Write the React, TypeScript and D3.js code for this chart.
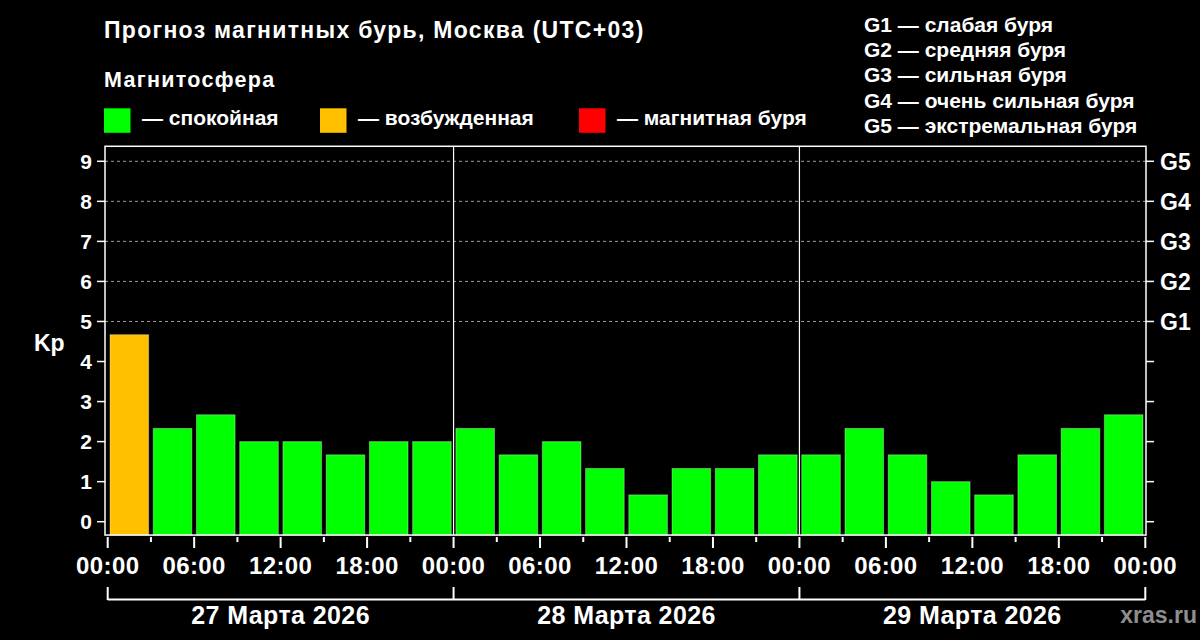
import * as React from "react"
import * as d3 from "d3"

// Kp forecast, 3-hour slots starting 27.03 00:00 (Moscow time)
const kpValues = [
  4.67, 2.33, 2.67, 2, 2, 1.67, 2, 2,
  2.33, 1.67, 2, 1.33, 0.67, 1.33, 1.33, 1.67,
  1.67, 2.33, 1.67, 1, 0.67, 1.67, 2.33, 2.67,
]
const dayLabels = ["27 Марта 2026", "28 Марта 2026", "29 Марта 2026"]
const hourLabels = ["00:00", "06:00", "12:00", "18:00"]
const kpTicks = [0, 1, 2, 3, 4, 5, 6, 7, 8, 9]
const stormLevels = ["G1", "G2", "G3", "G4", "G5"]
const stormKp = [5, 6, 7, 8, 9]
const stormLegend = [
  "G1 — слабая буря",
  "G2 — средняя буря",
  "G3 — сильная буря",
  "G4 — очень сильная буря",
  "G5 — экстремальная буря",
]
const statusLabels = ["— спокойная", "— возбужденная", "— магнитная буря"]
const statusColors = ["#00ff00", "#ffc000", "#ff0000"]
const kpThresholds = [4, 5]

const FONT = "'Liberation Sans', Arial, sans-serif"

function render(svgRef: React.RefObject<SVGSVGElement | null>) {
  const width = 1200
  const height = 640

  const svg = d3
    .select(svgRef.current)
    .attr("width", width)
    .attr("height", height)
    .style("background", "#000")
    .style("font-family", FONT)
    .style("font-weight", "bold")

  svg.selectAll("*").remove()

  const hours = kpValues.length * 3
  const xScale = d3.scaleLinear().domain([0, hours]).range([107.7, 1145.3])
  const yScale = d3.scaleLinear().domain([0, 9]).range([521.7, 161.3])
  const color = d3
    .scaleThreshold<number, string>()
    .domain(kpThresholds)
    .range(statusColors)

  const frame = {
    left: 105,
    right: 1146,
    top: yScale(9.375),
    bottom: yScale(-1 / 3),
  }

  // title + legends
  svg
    .append("text")
    .attr("x", 104)
    .attr("y", 38)
    .attr("fill", "#fff")
    .attr("font-size", 23)
    .attr("letter-spacing", 1.3)
    .text("Прогноз магнитных бурь, Москва (UTC+03)")

  svg
    .append("text")
    .attr("x", 104)
    .attr("y", 86.7)
    .attr("fill", "#fff")
    .attr("font-size", 21.5)
    .attr("letter-spacing", 1.3)
    .text("Магнитосфера")

  const legendX = [104, 320, 579]
  const legend = svg
    .selectAll(".status")
    .data(statusLabels)
    .join("g")
    .attr("class", "status")
    .attr("transform", (_, i) => `translate(${legendX[i]},108.3)`)
  legend
    .append("rect")
    .attr("width", 26.5)
    .attr("height", 24.5)
    .attr("fill", (_, i) => statusColors[i])
  legend
    .append("text")
    .attr("x", 38)
    .attr("y", 17)
    .attr("fill", "#fff")
    .attr("font-size", 21)
    .text((d) => d)

  svg
    .selectAll(".gLegend")
    .data(stormLegend)
    .join("text")
    .attr("class", "gLegend")
    .attr("x", 864)
    .attr("y", (_, i) => 31.5 + i * 25.4)
    .attr("fill", "#fff")
    .attr("font-size", 21)
    .text((d) => d)

  // dashed storm level lines
  svg
    .selectAll(".grid")
    .data(stormKp)
    .join("line")
    .attr("class", "grid")
    .attr("x1", frame.left)
    .attr("x2", frame.right)
    .attr("y1", (d) => yScale(d))
    .attr("y2", (d) => yScale(d))
    .attr("stroke", "#9a9a9a")
    .attr("stroke-width", 1)
    .attr("stroke-dasharray", "3,3")

  // bars
  const slot = xScale(3) - xScale(0)
  svg
    .selectAll(".bar")
    .data(kpValues)
    .join("rect")
    .attr("class", "bar")
    .attr("x", (_, i) => xScale(i * 3) + 2.3)
    .attr("width", slot - 4.6)
    .attr("y", (d) => yScale(d))
    .attr("height", (d) => frame.bottom - yScale(d))
    .attr("fill", (d) => color(d))
    .attr("stroke", "rgba(255,255,255,0.35)")
    .attr("stroke-width", 1)

  // day separators
  svg
    .selectAll(".daySep")
    .data(d3.range(1, dayLabels.length))
    .join("line")
    .attr("class", "daySep")
    .attr("x1", (d) => xScale(d * 24))
    .attr("x2", (d) => xScale(d * 24))
    .attr("y1", frame.top)
    .attr("y2", frame.bottom)
    .attr("stroke", "#fff")
    .attr("stroke-width", 1.2)

  // frame
  svg
    .append("rect")
    .attr("x", frame.left)
    .attr("y", frame.top)
    .attr("width", frame.right - frame.left)
    .attr("height", frame.bottom - frame.top)
    .attr("fill", "none")
    .attr("stroke", "#fff")
    .attr("stroke-width", 1.5)

  // left Kp axis
  svg
    .selectAll(".lTick")
    .data(kpTicks)
    .join("line")
    .attr("class", "lTick")
    .attr("x1", 97)
    .attr("x2", frame.left)
    .attr("y1", (d) => yScale(d))
    .attr("y2", (d) => yScale(d))
    .attr("stroke", "#fff")
    .attr("stroke-width", 1.5)
  svg
    .selectAll(".lLabel")
    .data(kpTicks)
    .join("text")
    .attr("class", "lLabel")
    .attr("x", 92)
    .attr("y", (d) => yScale(d))
    .attr("dy", "0.36em")
    .attr("text-anchor", "end")
    .attr("fill", "#fff")
    .attr("font-size", 21)
    .text((d) => d)
  svg
    .append("text")
    .attr("x", 34)
    .attr("y", 343)
    .attr("dy", "0.36em")
    .attr("fill", "#fff")
    .attr("font-size", 23)
    .text("Kp")

  // right G axis
  svg
    .selectAll(".rTick")
    .data(kpTicks)
    .join("line")
    .attr("class", "rTick")
    .attr("x1", frame.right)
    .attr("x2", 1154)
    .attr("y1", (d) => yScale(d))
    .attr("y2", (d) => yScale(d))
    .attr("stroke", "#fff")
    .attr("stroke-width", 1.5)
  svg
    .selectAll(".rLabel")
    .data(stormLevels)
    .join("text")
    .attr("class", "rLabel")
    .attr("x", 1160)
    .attr("y", (_, i) => yScale(stormKp[i]))
    .attr("dy", "0.36em")
    .attr("fill", "#fff")
    .attr("font-size", 23)
    .text((d) => d)

  // time axis
  const tickHours = d3.range(0, hours + 1, 3)
  svg
    .selectAll(".xTick")
    .data(tickHours)
    .join("line")
    .attr("class", "xTick")
    .attr("x1", (d) => xScale(d))
    .attr("x2", (d) => xScale(d))
    .attr("y1", frame.bottom + 2)
    .attr("y2", (d) => (d % 6 === 0 ? 548 : 542))
    .attr("stroke", "#fff")
    .attr("stroke-width", 2)
  svg
    .selectAll(".xLabel")
    .data(tickHours.filter((d) => d % 6 === 0))
    .join("text")
    .attr("class", "xLabel")
    .attr("x", (d) => xScale(d))
    .attr("y", 573.5)
    .attr("text-anchor", "middle")
    .attr("fill", "#fff")
    .attr("font-size", 24)
    .attr("letter-spacing", 0.4)
    .text((d) => hourLabels[(d % 24) / 6])

  // day brackets
  svg
    .append("line")
    .attr("x1", xScale(0))
    .attr("x2", xScale(hours))
    .attr("y1", 599.5)
    .attr("y2", 599.5)
    .attr("stroke", "#fff")
    .attr("stroke-width", 2)
  svg
    .selectAll(".dayTick")
    .data(d3.range(0, dayLabels.length + 1))
    .join("line")
    .attr("class", "dayTick")
    .attr("x1", (d) => xScale(d * 24))
    .attr("x2", (d) => xScale(d * 24))
    .attr("y1", 587)
    .attr("y2", 600)
    .attr("stroke", "#fff")
    .attr("stroke-width", 2)
  svg
    .selectAll(".dayLabel")
    .data(dayLabels)
    .join("text")
    .attr("class", "dayLabel")
    .attr("x", (_, i) => xScale(i * 24 + 12))
    .attr("y", 624)
    .attr("text-anchor", "middle")
    .attr("fill", "#fff")
    .attr("font-size", 25)
    .attr("letter-spacing", 0.4)
    .text((d) => d)

  svg
    .append("text")
    .attr("x", 1197)
    .attr("y", 623)
    .attr("text-anchor", "end")
    .attr("fill", "#8e8e8e")
    .attr("font-size", 23)
    .text("xras.ru")
}

export default function App(): React.JSX.Element {
  const svg = React.useRef<SVGSVGElement>(null)

  React.useEffect(() => {
    render(svg)
  }, [])

  return (
    <div style={{ position: "absolute", left: 0, top: 0, width: 1200, height: 640, background: "#000" }}>
      <svg ref={svg} style={{ display: "block" }}></svg>
    </div>
  )
}
